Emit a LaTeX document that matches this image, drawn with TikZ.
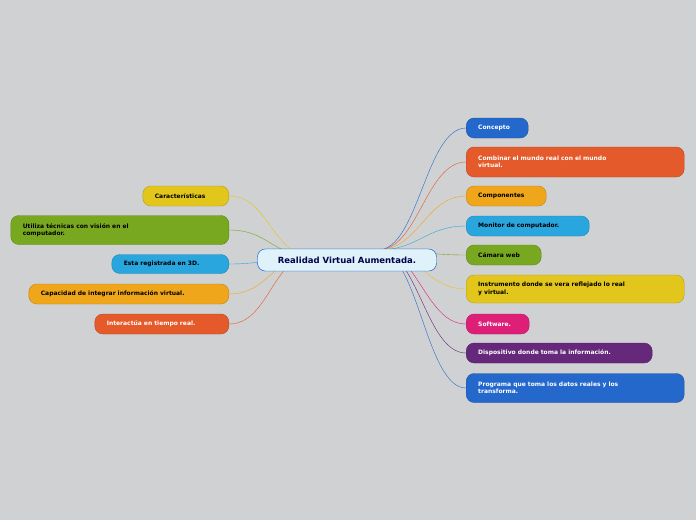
\documentclass[tikz,border=0pt]{standalone}
\usepackage{fontspec}
\setsansfont{DejaVu Sans}
\usetikzlibrary{calc}
\definecolor{bg}{HTML}{D0D1D3}
\definecolor{cblue}{HTML}{2468CC}
\definecolor{cred}{HTML}{E55A2B}
\definecolor{corange}{HTML}{F0A61A}
\definecolor{ccyan}{HTML}{29A6DE}
\definecolor{cgreen}{HTML}{78A820}
\definecolor{cyellow}{HTML}{E3C61C}
\definecolor{cpink}{HTML}{DE1F78}
\definecolor{cpurple}{HTML}{66287A}
\tikzset{
  leaf/.style={rounded corners=8pt, fill=#1, draw=#1!80!black, thin, inner xsep=12pt, inner ysep=2pt,
    align=left, font=\sffamily\bfseries\fontsize{6}{7.5}\selectfont},
  link/.style={draw=#1, thin}
}
\begin{document}
\begin{tikzpicture}[x=1pt,y=-1pt]
    \fill [bg] (0,0) rectangle (696,520);

    \node [rounded corners=8pt, fill=white!85!ccyan, draw=cblue, minimum width=179pt, minimum height=22pt,
      font=\sffamily\bfseries\fontsize{8.5}{10}\selectfont, text=black!70!blue] (main) at (347,260) {Realidad Virtual Aumentada.};
    \coordinate (r) at (378,250);
    \coordinate (l) at (312,256);

    % right side
    \node [leaf=cblue, text=white, anchor=west, minimum width=62pt, minimum height=20pt, text width=38pt] (concepto) at (466,128) {Concepto};
    \node [leaf=cred, text=white, anchor=west, minimum width=218pt, minimum height=30pt, text width=194pt] (combinar) at (466,162) {Combinar el mundo real con el mundo\\virtual.};
    \node [leaf=corange, anchor=west, minimum width=80pt, minimum height=20pt, text width=56pt] (componentes) at (466,196) {Componentes};
    \node [leaf=ccyan, anchor=west, minimum width=123pt, minimum height=20pt, text width=99pt] (monitor) at (466,226) {Monitor de computador.};
    \node [leaf=cgreen, anchor=west, minimum width=75pt, minimum height=20pt, text width=51pt] (camara) at (466,255) {Cámara web};
    \node [leaf=cyellow, anchor=west, minimum width=218pt, minimum height=28pt, text width=194pt] (instrumento) at (466,289) {Instrumento donde se vera reflejado lo real\\y virtual.};
    \node [leaf=cpink, text=white, anchor=west, minimum width=63pt, minimum height=20pt, text width=39pt] (software) at (466,324) {Software.};
    \node [leaf=cpurple, text=white, anchor=west, minimum width=186pt, minimum height=20pt, text width=162pt] (dispositivo) at (466,353) {Dispositivo donde toma la información.};
    \node [leaf=cblue, text=white, anchor=west, minimum width=218pt, minimum height=29pt, text width=194pt] (programa) at (466,388) {Programa que toma los datos reales y los\\transforma.};

    % left side
    \node [leaf=cyellow, anchor=east, minimum width=86pt, minimum height=20pt, text width=62pt] (caracteristicas) at (229,196) {Características};
    \node [leaf=cgreen, anchor=east, minimum width=218pt, minimum height=29pt, text width=194pt] (utiliza) at (229,230) {Utiliza técnicas con visión en el\\computador.};
    \node [leaf=ccyan, anchor=east, minimum width=117pt, minimum height=19pt, text width=93pt] (registrada) at (229,264) {Esta registrada en 3D.};
    \node [leaf=corange, anchor=east, minimum width=200pt, minimum height=20pt, text width=176pt] (capacidad) at (229,294) {Capacidad de integrar información virtual.};
    \node [leaf=cred, text=white, anchor=east, minimum width=134pt, minimum height=20pt, text width=110pt] (interactua) at (229,324) {Interactúa en tiempo real.};

    \foreach \n/\c in {concepto/cblue, combinar/cred, componentes/corange, monitor/ccyan, camara/cgreen,
                       instrumento/cyellow, software/cpink, dispositivo/cpurple, programa/cblue}
      \draw [link=\c] (r) .. controls +(40,0) and +(-40,0) .. (\n.west);
    \foreach \n/\c in {caracteristicas/cyellow, utiliza/cgreen, registrada/ccyan, capacidad/corange, interactua/cred}
      \draw [link=\c] (l) .. controls +(-40,0) and +(40,0) .. (\n.east);
    \node [rounded corners=8pt, fill=white!85!ccyan, draw=cblue, minimum width=179pt, minimum height=22pt,
      font=\sffamily\bfseries\fontsize{8.5}{10}\selectfont, text=black!70!blue] at (main) {Realidad Virtual Aumentada.};
\end{tikzpicture}
\end{document}
